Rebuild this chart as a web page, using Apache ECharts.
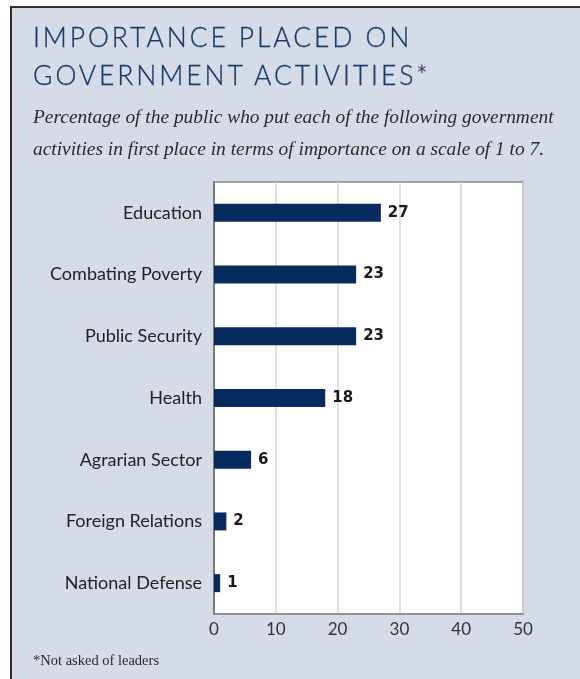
<!DOCTYPE html>
<html>
<head>
<meta charset="utf-8">
<script src="https://cdn.jsdelivr.net/npm/echarts@6/dist/echarts.min.js"></script>
<style>
    html, body { margin: 0; padding: 0; background: #fff; }
    .wrap { position: relative; width: 580px; height: 679px; }
    #chart { position: absolute; left: 0; top: 0; width: 580px; height: 679px; }
    .head {
        position: absolute; left: 33px; top: 18px;
        font-family: Lato, "Noto Sans", sans-serif; font-size: 26.5px; font-weight: 300;
        letter-spacing: 2.9px; line-height: 38px; color: #173b6c;
        -webkit-text-stroke: 0.3px #173b6c;
    }
</style>
</head>
<body>
<div class="wrap">
    <div id="chart"></div>
    <div class="head">IMPORTANCE PLACED ON<br>GOVERNMENT ACTIVITIES*</div>
</div>
<script>
    // data
    var categories = ['Education', 'Combating Poverty', 'Public Security', 'Health', 'Agrarian Sector', 'Foreign Relations', 'National Defense'];
    var values = [27, 23, 23, 18, 6, 2, 1];
    var subtitleLines = [
        'Percentage of the public who put each of the following government',
        'activities in first place in terms of importance on a scale of 1 to 7.'
    ];
    var footnote = '*Not asked of leaders';

    var myChart = echarts.init(document.getElementById('chart'));
    var option = {
        backgroundColor: '#fff',
        animation: false,
        graphic: [
            {//panel frame
                type: 'rect', z: -10,
                shape: {x: 11, y: 7, width: 572, height: 690},
                style: {fill: '#d5dce7', stroke: '#2e2e2e', lineWidth: 2}
            },
            {
                type: 'text', left: 33, top: 102,
                style: {
                    text: subtitleLines.join('\n'),
                    font: 'italic 19.4px "Liberation Serif", serif',
                    lineHeight: 32, fill: '#2b2b2b'
                }
            },
            {
                type: 'text', left: 33, top: 654,
                style: {
                    text: footnote,
                    font: '14.5px "Liberation Serif", serif',
                    fill: '#2b2b2b'
                }
            }
        ],
        grid: {
            left: 214, right: 57, top: 182, bottom: 65,
            show: true, backgroundColor: '#fff',
            borderColor: '#8c8c8c', borderWidth: 1.5
        },
        xAxis: {
            type: 'value', min: 0, max: 50, interval: 10,
            axisLine: {show: true, lineStyle: {color: '#8c8c8c', width: 1.5}},
            axisTick: {show: false},
            axisLabel: {color: '#333', fontSize: 17, fontFamily: 'Lato, sans-serif', margin: 7},
            splitLine: {show: true, lineStyle: {color: '#d6d6d6', width: 1.5}}
        },
        yAxis: {
            type: 'category', inverse: true,
            data: categories,
            axisLine: {show: true, lineStyle: {color: '#7a7a7a', width: 2}},
            axisTick: {show: false},
            axisLabel: {color: '#222', fontSize: 18, fontFamily: 'Lato, sans-serif', margin: 12}
        },
        series: [{
            type: 'bar',
            data: values,
            barWidth: 18,
            itemStyle: {color: '#062c5f'},
            label: {
                show: true, position: 'right', distance: 7,
                color: '#1a1a1a', fontSize: 15, fontWeight: 'bold',
                fontFamily: '"DejaVu Sans", sans-serif'
            }
        }]
    };
    myChart.setOption(option);
</script>
</body>
</html>
